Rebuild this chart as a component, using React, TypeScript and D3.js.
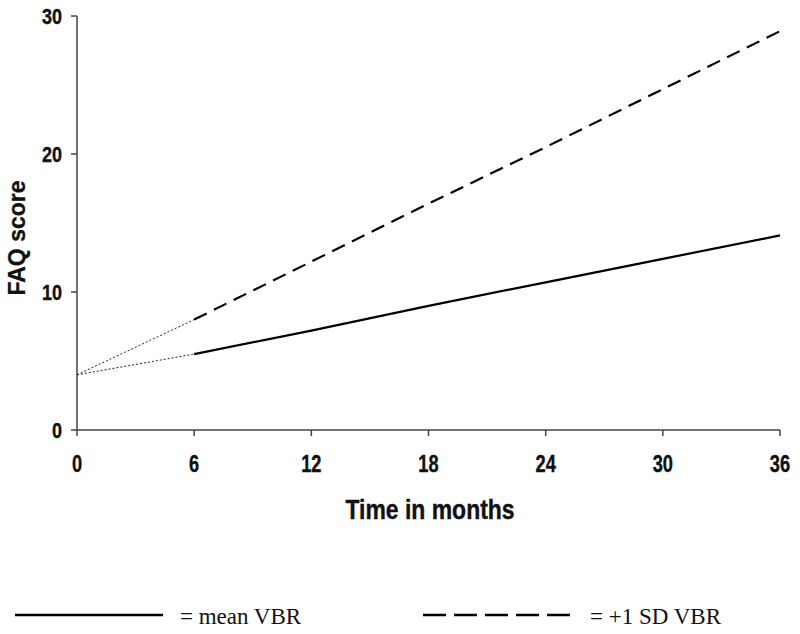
import React from "react";
import * as d3 from "d3";

const months = [0, 6, 12, 18, 24, 30, 36];
const yTicks = [0, 10, 20, 30];
const observedMonths = [6, 12, 18, 24, 30, 36];
const meanVBR = [5.5, 7.2, 9.0, 10.7, 12.4, 14.1];
const sdVBR = [8.0, 12.2, 16.4, 20.5, 24.7, 28.9];
const baselineValue = 4.0;

const W = 800;
const H = 634;

const sans = "'Liberation Sans', Arial, sans-serif";

function NarrowText(props: {
  x: number;
  y: number;
  size: number;
  anchor: string;
  squeeze: number;
  children: React.ReactNode;
}) {
  return (
    <g transform={`translate(${props.x},${props.y}) scale(${props.squeeze},1)`}>
      <text
        x={0}
        y={0}
        dy="0.35em"
        textAnchor={props.anchor as any}
        fontFamily={sans}
        fontWeight="bold"
        fontSize={props.size}
        fill="#111"
        stroke="#111"
        strokeWidth={0.4}
      >
        {props.children}
      </text>
    </g>
  );
}

export default function App() {
  const x = d3.scaleLinear().domain([0, 36]).range([77, 780]);
  const y = d3.scaleLinear().domain([0, 30]).range([430, 16]);
  const line = d3
    .line<[number, number]>()
    .x((d) => x(d[0]))
    .y((d) => y(d[1]));

  const meanPts: [number, number][] = observedMonths.map((m, i) => [m, meanVBR[i]]);
  const sdPts: [number, number][] = observedMonths.map((m, i) => [m, sdVBR[i]]);
  const meanExtrap: [number, number][] = [[0, baselineValue], [6, meanVBR[0]]];
  const sdExtrap: [number, number][] = [[0, baselineValue], [6, sdVBR[0]]];

  const axisColor = "#444";

  return (
    <svg
      width={W}
      height={H}
      style={{ position: "absolute", left: 0, top: 0, background: "#fff" }}
    >
      {/* axes */}
      <line x1={x(0)} x2={x(0)} y1={y(30)} y2={y(0)} stroke={axisColor} strokeWidth={1.5} />
      <line x1={x(0)} x2={x(36)} y1={y(0)} y2={y(0)} stroke={axisColor} strokeWidth={1.5} />
      {yTicks.map((t) => (
        <g key={"y" + t}>
          <line x1={x(0) - 6} x2={x(0)} y1={y(t)} y2={y(t)} stroke={axisColor} strokeWidth={1.5} />
          <NarrowText x={62} y={y(t)} size={22} anchor="end" squeeze={0.82}>
            {t}
          </NarrowText>
        </g>
      ))}
      {months.map((m) => (
        <g key={"x" + m}>
          <line x1={x(m)} x2={x(m)} y1={y(0)} y2={y(0) + 6} stroke={axisColor} strokeWidth={1.5} />
          <NarrowText x={x(m)} y={464} size={24} anchor="middle" squeeze={0.76}>
            {m}
          </NarrowText>
        </g>
      ))}
      <NarrowText x={430} y={509} size={28} anchor="middle" squeeze={0.82}>
        Time in months
      </NarrowText>
      <text
        transform="translate(25,238) rotate(-90)"
        textAnchor="middle"
        fontFamily={sans}
        fontWeight="bold"
        fontSize={23}
        fill="#111"
        stroke="#111"
        strokeWidth={0.3}
      >
        FAQ score
      </text>

      {/* extrapolated dotted segments */}
      <path d={line(meanExtrap) || ""} fill="none" stroke="#222" strokeWidth={1} strokeDasharray="2,2" />
      <path d={line(sdExtrap) || ""} fill="none" stroke="#222" strokeWidth={1} strokeDasharray="2,2" />

      {/* series */}
      <path d={line(meanPts) || ""} fill="none" stroke="#000" strokeWidth={2.2} />
      <path d={line(sdPts) || ""} fill="none" stroke="#000" strokeWidth={2.2} strokeDasharray="14,8" />

      {/* legend */}
      <line x1={15} x2={163} y1={615} y2={615} stroke="#000" strokeWidth={2.5} />
      <text
        x={180}
        y={624}
        fontFamily="'Liberation Serif', 'Times New Roman', serif"
        fontSize={23}
        fill="#111"
      >
        = mean VBR
      </text>
      <line x1={423} x2={570} y1={615} y2={615} stroke="#000" strokeWidth={2.5} strokeDasharray="23,8" />
      <text
        x={590}
        y={624}
        fontFamily="'Liberation Serif', 'Times New Roman', serif"
        fontSize={23}
        fill="#111"
      >
        = +1 SD VBR
      </text>
    </svg>
  );
}
